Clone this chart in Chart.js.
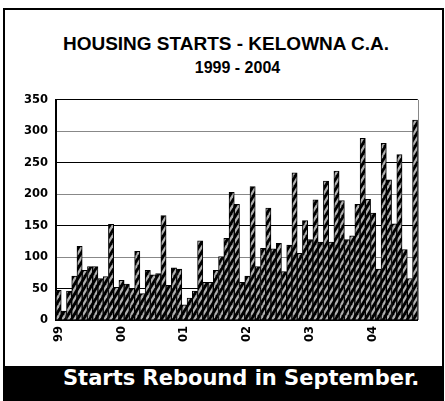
<!DOCTYPE html>
<html>
<head>
<meta charset="utf-8">
<script src="https://cdn.jsdelivr.net/npm/chart.js@4/dist/chart.umd.min.js"></script>
<style>
  body { margin: 0; background: #fff; width: 445px; height: 401px; position: relative; overflow: hidden; }
  #frame { position: absolute; left: 3px; top: 8px; width: 437px; height: 360px; border: 2px solid #000; border-bottom: none; }
  #title1 { position: absolute; left: 0; width: 452px; top: 33px; text-align: center; font: bold 19px "Liberation Sans", Arial, sans-serif; }
  #title2 { position: absolute; left: 0; width: 475px; top: 59px; text-align: center; font: bold 16px "Liberation Sans", Arial, sans-serif; }
  #wrap { position: absolute; left: 5px; top: 85px; width: 430px; height: 265px; }
  #banner { position: absolute; left: 3px; top: 366px; width: 441px; height: 35px; background: #000; color: #fff; }
  #banner span { position: absolute; left: 60px; top: 0px; font: bold 21px "DejaVu Sans", Verdana, sans-serif; white-space: nowrap; }
</style>
</head>
<body>
<div id="frame"></div>
<div id="title1">HOUSING STARTS - KELOWNA C.A.</div>
<div id="title2">1999 - 2004</div>
<div id="wrap"><canvas id="chart"></canvas></div>
<div id="banner"><span>Starts Rebound in September.</span></div>
<script>
// monthly starts, Jan 1999 - Sep 2004
const years = ["99", "00", "01", "02", "03", "04"];
const months = ["Jan", "Feb", "Mar", "Apr", "May", "Jun", "Jul", "Aug", "Sep", "Oct", "Nov", "Dec"];
const starts1999 = [47, 14, 46, 70, 117, 79, 85, 85, 66, 69, 152, 52];
const starts2000 = [63, 57, 50, 109, 42, 79, 72, 74, 166, 55, 83, 81];
const starts2001 = [24, 35, 46, 126, 60, 60, 79, 101, 130, 203, 184, 60];
const starts2002 = [70, 212, 85, 114, 178, 113, 122, 77, 119, 234, 106, 158];
const starts2003 = [128, 191, 124, 221, 124, 237, 190, 128, 134, 184, 289, 192];
const starts2004 = [170, 81, 281, 223, 153, 263, 112, 66, 318];
const yTicks = [0, 50, 100, 150, 200, 250, 300, 350];

const series = [starts1999, starts2000, starts2001, starts2002, starts2003, starts2004];
const labels = [];
const values = [];
series.forEach((arr, yi) => {
    arr.forEach((v, mi) => {
        labels.push(months[mi] + " " + years[yi]);
        values.push(v);
    });
});

const canvas = document.getElementById("chart");
const ctx = canvas.getContext("2d");

// black / grey diagonal hatch used by the bars
function makeHatch() {
    const tile = document.createElement("canvas");
    tile.width = 6;
    tile.height = 10;
    const g = tile.getContext("2d");
    g.fillStyle = "#000";
    g.fillRect(0, 0, 6, 10);
    g.strokeStyle = "#b0b0b0";
    g.lineWidth = 2.2;
    for (const dx of [-6, 0, 6]) {
        g.beginPath();
        g.moveTo(dx, 10);
        g.lineTo(dx + 6, 0);
        g.stroke();
    }
    return ctx.createPattern(tile, "repeat");
}

// thin grey line on the right side of the plot
const rightEdge = {
    id: "rightEdge",
    afterDraw(chart) {
        const a = chart.chartArea;
        const c = chart.ctx;
        c.save();
        c.strokeStyle = "#888";
        c.lineWidth = 1;
        c.beginPath();
        c.moveTo(Math.round(a.right) + 0.5, a.top);
        c.lineTo(Math.round(a.right) + 0.5, a.bottom);
        c.stroke();
        c.restore();
    }
};

const tickFont = { family: "'DejaVu Sans', Verdana, sans-serif", size: 11.5, weight: "bold" };

new Chart(ctx, {
    type: "bar",
    data: {
        labels: labels,
        datasets: [{
            label: "Housing Starts",
            data: values,
            backgroundColor: makeHatch(),
            borderColor: "#000",
            borderWidth: 1,
            barPercentage: 1,
            categoryPercentage: 1
        }]
    },
    options: {
        responsive: true,
        maintainAspectRatio: false,
        animation: false,
        layout: { padding: { top: 12, right: 5, left: 0, bottom: 0 } },
        plugins: { legend: { display: false }, tooltip: { enabled: false } },
        scales: {
            x: {
                grid: { display: false, drawTicks: false },
                border: { color: "#000", width: 2 },
                ticks: {
                    color: "#000",
                    font: tickFont,
                    autoSkip: false,
                    minRotation: 90,
                    maxRotation: 90,
                    padding: 6,
                    callback: function (val, i) {
                        return i % 12 === 0 ? years[i / 12] : "";
                    }
                },
                afterFit: (scale) => { scale.height = 30; }
            },
            y: {
                min: 0,
                max: 350,
                afterBuildTicks: (scale) => { scale.ticks = yTicks.map(v => ({ value: v })); },
                grid: {
                    drawTicks: false,
                    color: (c) => (c.tick && c.tick.value % 100 === 0 && c.tick.value !== 0) ? "#888" : "#000",
                    lineWidth: 1
                },
                border: { color: "#000", width: 2 },
                ticks: { color: "#000", font: tickFont, padding: 8 },
                afterFit: (scale) => { scale.width = 51; }
            }
        }
    },
    plugins: [rightEdge]
});
</script>
</body>
</html>
